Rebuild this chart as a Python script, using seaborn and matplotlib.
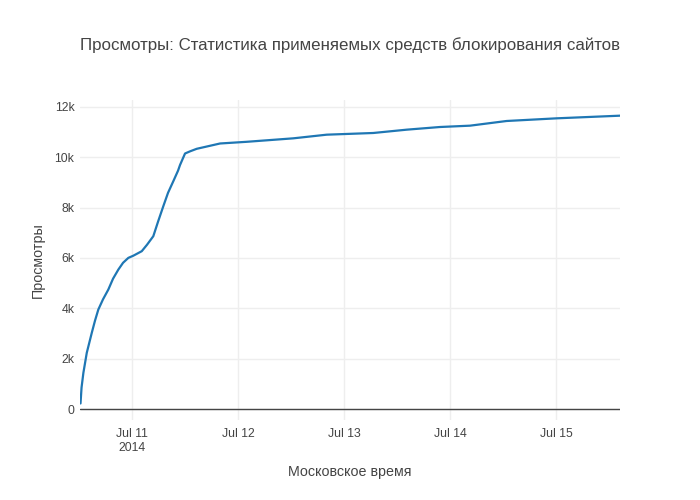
import matplotlib
matplotlib.use("Agg")
import matplotlib.pyplot as plt
import seaborn as sns
import pandas as pd

times = [
    "2014-07-10 12:20", "2014-07-10 12:34", "2014-07-10 12:59", "2014-07-10 13:45",
    "2014-07-10 14:53", "2014-07-10 15:37", "2014-07-10 16:22", "2014-07-10 17:26",
    "2014-07-10 18:38", "2014-07-10 19:42", "2014-07-10 20:54", "2014-07-10 21:58",
    "2014-07-10 23:10", "2014-07-11 00:18", "2014-07-11 02:12", "2014-07-11 03:24",
    "2014-07-11 04:49", "2014-07-11 05:53", "2014-07-11 07:05", "2014-07-11 08:09",
    "2014-07-11 09:21", "2014-07-11 10:25", "2014-07-11 10:52", "2014-07-11 12:00",
    "2014-07-11 13:08", "2014-07-11 14:39", "2014-07-11 16:32", "2014-07-11 19:56",
    "2014-07-11 22:38", "2014-07-12 01:58", "2014-07-12 12:31", "2014-07-12 20:05",
    "2014-07-13 06:37", "2014-07-13 14:12", "2014-07-13 21:44", "2014-07-14 04:32",
    "2014-07-14 12:50", "2014-07-15 00:10", "2014-07-15 14:30",
]
views = [
    220, 850, 1437, 2233,
    3027, 3512, 3952, 4360,
    4747, 5178, 5540, 5810,
    6005, 6092, 6270, 6528,
    6866, 7440, 8058, 8590,
    9052, 9470, 9695, 10152,
    10238, 10339, 10414, 10550,
    10580, 10617, 10755, 10900,
    10967, 11099, 11205, 11258,
    11444, 11550, 11655,
]
y_ticks = [0, 2000, 4000, 6000, 8000, 10000, 12000]
y_tick_labels = ["0", "2k", "4k", "6k", "8k", "10k", "12k"]
x_ticks = ["2014-07-11", "2014-07-12", "2014-07-13", "2014-07-14", "2014-07-15"]
x_tick_labels = ["Jul 11\n2014", "Jul 12", "Jul 13", "Jul 14", "Jul 15"]

title = "Просмотры: Статистика применяемых средств блокирования сайтов"
xlabel = "Московское время"
ylabel = "Просмотры"

df = pd.DataFrame({"time": pd.to_datetime(times), "views": views})

sns.set_style("white")
plt.rcParams["font.family"] = ["Liberation Sans", "DejaVu Sans"]

fig = plt.figure(figsize=(7, 5), dpi=100)
ax = fig.add_axes([80 / 700, 80 / 500, 540 / 700, 320 / 500])

sns.lineplot(data=df, x="time", y="views", ax=ax, color="#1f77b4", linewidth=1.6)

ax.set_xlim(pd.Timestamp("2014-07-10 12:13"), pd.Timestamp("2014-07-15 14:30"))
ax.set_ylim(-437, 12278)

ax.set_yticks(y_ticks)
ax.set_yticklabels(y_tick_labels)
ax.set_xticks(pd.to_datetime(x_ticks))
ax.set_xticklabels(x_tick_labels)

ax.grid(True, color="#eeeeee", linewidth=1)
ax.set_axisbelow(True)
ax.axhline(0, color="#444444", linewidth=1, zorder=1.5)
for s in ax.spines.values():
    s.set_visible(False)

ax.tick_params(axis="both", length=0, labelsize=8.8, colors="#444444")
ax.tick_params(axis="y", pad=4)
ax.tick_params(axis="x", pad=6)

ax.set_xlabel(xlabel, fontsize=10.3, color="#444444", labelpad=8)
ax.set_ylabel(ylabel, fontsize=10.3, color="#444444", labelpad=7)
fig.text(350 / 700, 1 - 45 / 500, title, ha="center", va="center",
         fontsize=12.2, color="#444444")

fig.savefig("out.png", dpi=100)
